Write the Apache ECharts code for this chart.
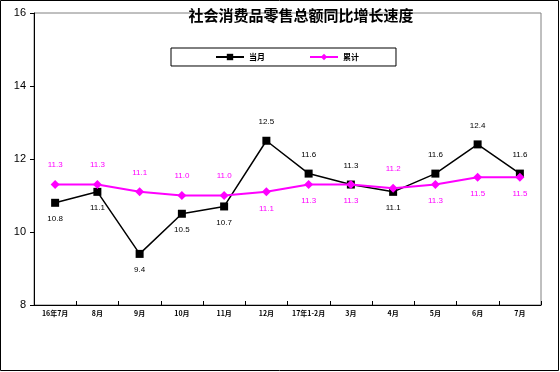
<!DOCTYPE html>
<html><head><meta charset="utf-8">
<script src="https://cdn.jsdelivr.net/npm/echarts@6/dist/echarts.min.js"></script>
<style>html,body{margin:0;padding:0;background:#fff}#c{width:560px;height:372px}</style>
</head><body><div id="c"></div>
<script>
const categories = ['16年7月','8月','9月','10月','11月','12月','17年1-2月','3月','4月','5月','6月','7月'];
const monthly = [10.8, 11.1, 9.4, 10.5, 10.7, 12.5, 11.6, 11.3, 11.1, 11.6, 12.4, 11.6];
const cumulative = [11.3, 11.3, 11.1, 11.0, 11.0, 11.1, 11.3, 11.3, 11.2, 11.3, 11.5, 11.5];
const monthlyLabelSide = ['bottom','bottom','bottom','bottom','bottom','top','top','top','bottom','top','top','top'];
const cumLabelSide = ['top','top','top','top','top','bottom','bottom','bottom','top','bottom','bottom','bottom'];
const seriesNames = ['当月','累计'];
const titleText = '社会消费品零售总额同比增长速度';

const FONT = 'Liberation Sans, Arial, Noto Sans CJK SC, sans-serif';
const CJK = 'Noto Sans CJK SC, sans-serif';

function mk(vals, sides, color) {
  return vals.map((v, i) => ({
    value: v,
    label: {
      position: sides[i],
      distance: sides[i] === 'top' ? 11 : 8,
      color: color
    }
  }));
}

const chart = echarts.init(document.getElementById('c'), null, {renderer: 'canvas'});
chart.setOption({
  animation: false,
  backgroundColor: '#fff',
  title: {
    text: titleText, left: 296, top: 3, textAlign: 'center',
    textStyle: {fontFamily: CJK, fontSize: 15, fontWeight: 'bold', color: '#000'}
  },
  legend: {
    left: 171, top: 48,
    padding: [5, 37, 5, 44],
    itemGap: 44, itemWidth: 28, itemHeight: 8,
    borderColor: '#000', borderWidth: 1, backgroundColor: '#fff',
    textStyle: {fontFamily: CJK, fontSize: 8, color: '#000', fontWeight: 'bold'},
    data: seriesNames
  },
  grid: {left: 34, right: 19, top: 13, bottom: 67, show: true, borderColor: '#808080', borderWidth: 1, backgroundColor: 'transparent'},
  xAxis: {
    type: 'category', data: categories, boundaryGap: true,
    axisLine: {lineStyle: {color: '#000', width: 1}},
    axisTick: {show: true, inside: true, length: 4, lineStyle: {color: '#000'}},
    axisLabel: {fontFamily: CJK, fontSize: 7, color: '#000', margin: 5, interval: 0, fontWeight: 'bold'},
    splitLine: {show: false}
  },
  yAxis: {
    type: 'value', min: 8, max: 16, interval: 2,
    axisLine: {show: true, lineStyle: {color: '#000', width: 1}},
    axisTick: {show: true, length: 4, lineStyle: {color: '#000'}},
    axisLabel: {fontFamily: FONT, fontSize: 11, color: '#000', margin: 8},
    splitLine: {show: false}
  },
  series: [
    {
      name: seriesNames[0], type: 'line', data: mk(monthly, monthlyLabelSide, '#000'),
      symbol: 'rect', symbolSize: 8,
      lineStyle: {color: '#000', width: 1.5},
      itemStyle: {color: '#000'},
      label: {show: true, fontFamily: FONT, fontSize: 8, formatter: p => p.value.toFixed(1)},
      z: 3
    },
    {
      name: seriesNames[1], type: 'line', data: mk(cumulative, cumLabelSide, '#FF00FF'),
      symbol: 'diamond', symbolSize: 9,
      lineStyle: {color: '#FF00FF', width: 2},
      itemStyle: {color: '#FF00FF'},
      label: {show: true, fontFamily: FONT, fontSize: 8, formatter: p => p.value.toFixed(1)},
      z: 4
    }
  ],
  graphic: [{
    type: 'rect', shape: {x: 0.5, y: 0.5, width: 558, height: 370},
    style: {fill: 'none', stroke: '#000', lineWidth: 1}, z: 100, silent: true
  }]
});
</script></body></html>
